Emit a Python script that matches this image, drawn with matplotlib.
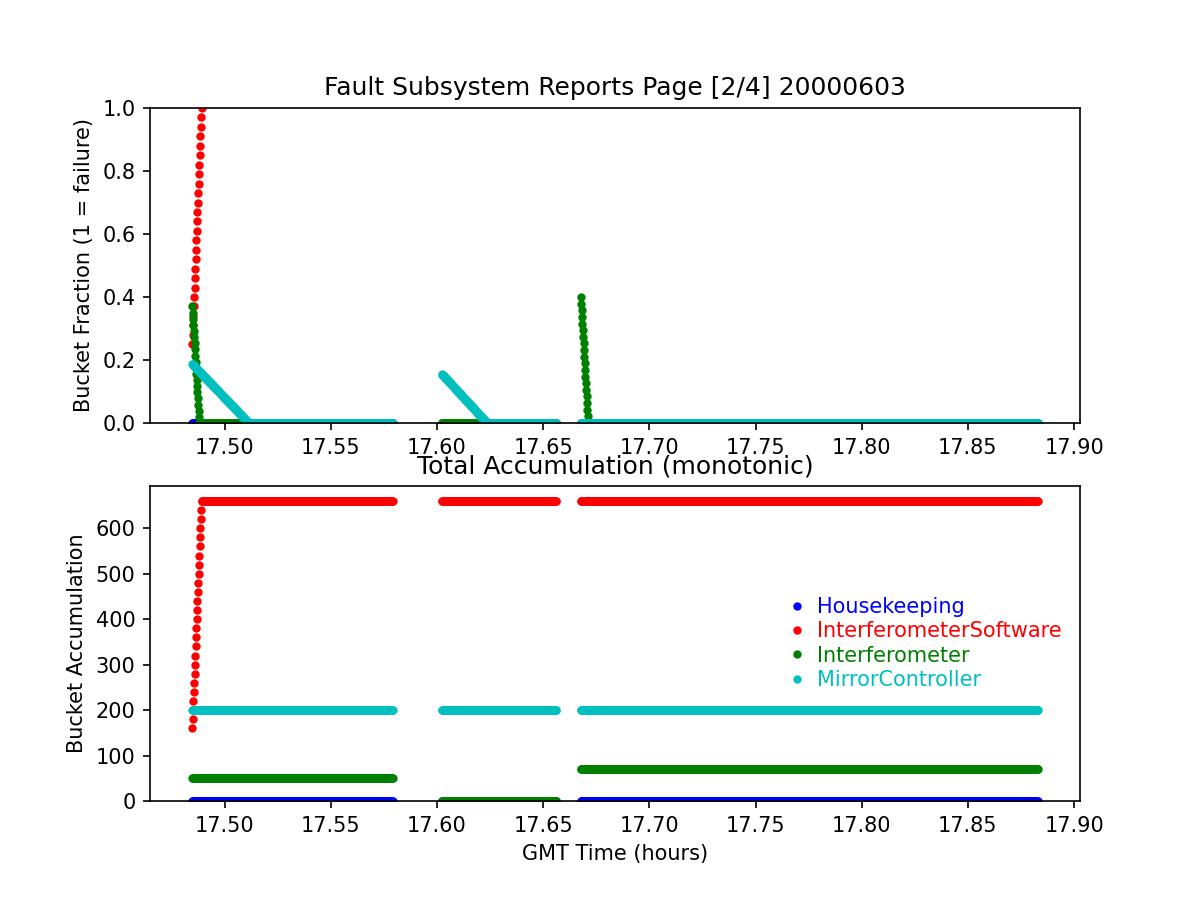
import numpy as np
import matplotlib
matplotlib.use("Agg")
import matplotlib.pyplot as plt

# ---- data ----
series_names = ["Housekeeping", "InterferometerSoftware", "Interferometer", "MirrorController"]
series_colors = ["b", "r", "g", "c"]

# three data segments (GMT hours)
seg_start = [17.4848, 17.6024, 17.6678]
seg_end = [17.5792, 17.6562, 17.8829]
sample_step = 0.000175  # hours between samples (~0.63 s)

# Per series, per segment: (ramp start value, ramp end value, ramp samples, hold value)
# a ramp with 0 samples means the segment is flat at the hold value
frac_housekeeping = [(0.0, 0.0, 0, 0.0), (0.0, 0.0, 0, 0.0), (0.0, 0.0, 0, 0.0)]
frac_ifsoftware = [(0.25, 1.00, 26, 1.03), (0.0, 0.0, 0, 1.03), (0.0, 0.0, 0, 1.03)]
frac_interferometer = [(0.37, 0.0, 20, 0.0), (0.0, 0.0, 0, 0.0), (0.40, 0.0, 20, 0.0)]
frac_mirror = [(0.187, 0.0, 153, 0.0), (0.155, 0.0, 122, 0.0), (0.0, 0.0, 0, 0.0)]

acc_housekeeping = [(0, 0, 0, 0), (0, 0, 0, 0), (0, 0, 0, 0)]
acc_ifsoftware = [(160, 660, 26, 660), (0, 0, 0, 660), (0, 0, 0, 660)]
acc_interferometer = [(0, 0, 0, 50), (0, 0, 0, 0), (0, 0, 0, 70)]
acc_mirror = [(0, 0, 0, 200), (0, 0, 0, 200), (0, 0, 0, 200)]

frac_series = [frac_housekeeping, frac_ifsoftware, frac_interferometer, frac_mirror]
acc_series = [acc_housekeeping, acc_ifsoftware, acc_interferometer, acc_mirror]

title_top = "Fault Subsystem Reports Page [2/4] 20000603"
title_bottom = "Total Accumulation (monotonic)"
ylabel_top = "Bucket Fraction (1 = failure)"
ylabel_bottom = "Bucket Accumulation"
xlabel = "GMT Time (hours)"


def build(pieces):
    ts, vs = [], []
    for (t0, t1), (r0, r1, n, hold) in zip(zip(seg_start, seg_end), pieces):
        t = np.arange(t0, t1 + sample_step / 2, sample_step)
        v = np.full(len(t), float(hold))
        if n > 0:
            v[:n] = np.linspace(r0, r1, n)
        ts.append(t)
        vs.append(v)
    return np.concatenate(ts), np.concatenate(vs)


fig, (ax1, ax2) = plt.subplots(2, 1, figsize=(8, 6), dpi=150)

for name, col, pieces in zip(series_names, series_colors, frac_series):
    t, v = build(pieces)
    ax1.plot(t, v, col + ".", label=name)
ax1.set_ylim(0, 1.0)
ax1.set_title(title_top)
ax1.set_ylabel(ylabel_top)

for name, col, pieces in zip(series_names, series_colors, acc_series):
    t, v = build(pieces)
    ax2.plot(t, v, col + ".", label=name)
ax2.set_ylim(0, 693)
ax2.set_title(title_bottom)
ax2.set_ylabel(ylabel_bottom)
ax2.set_xlabel(xlabel)

leg = ax2.legend(loc="center right", frameon=False, numpoints=1,
                 handlelength=0.32, labelspacing=0.21)
for txt, col in zip(leg.get_texts(), series_colors):
    txt.set_color(col)

fig.savefig("out.png", dpi=150)
